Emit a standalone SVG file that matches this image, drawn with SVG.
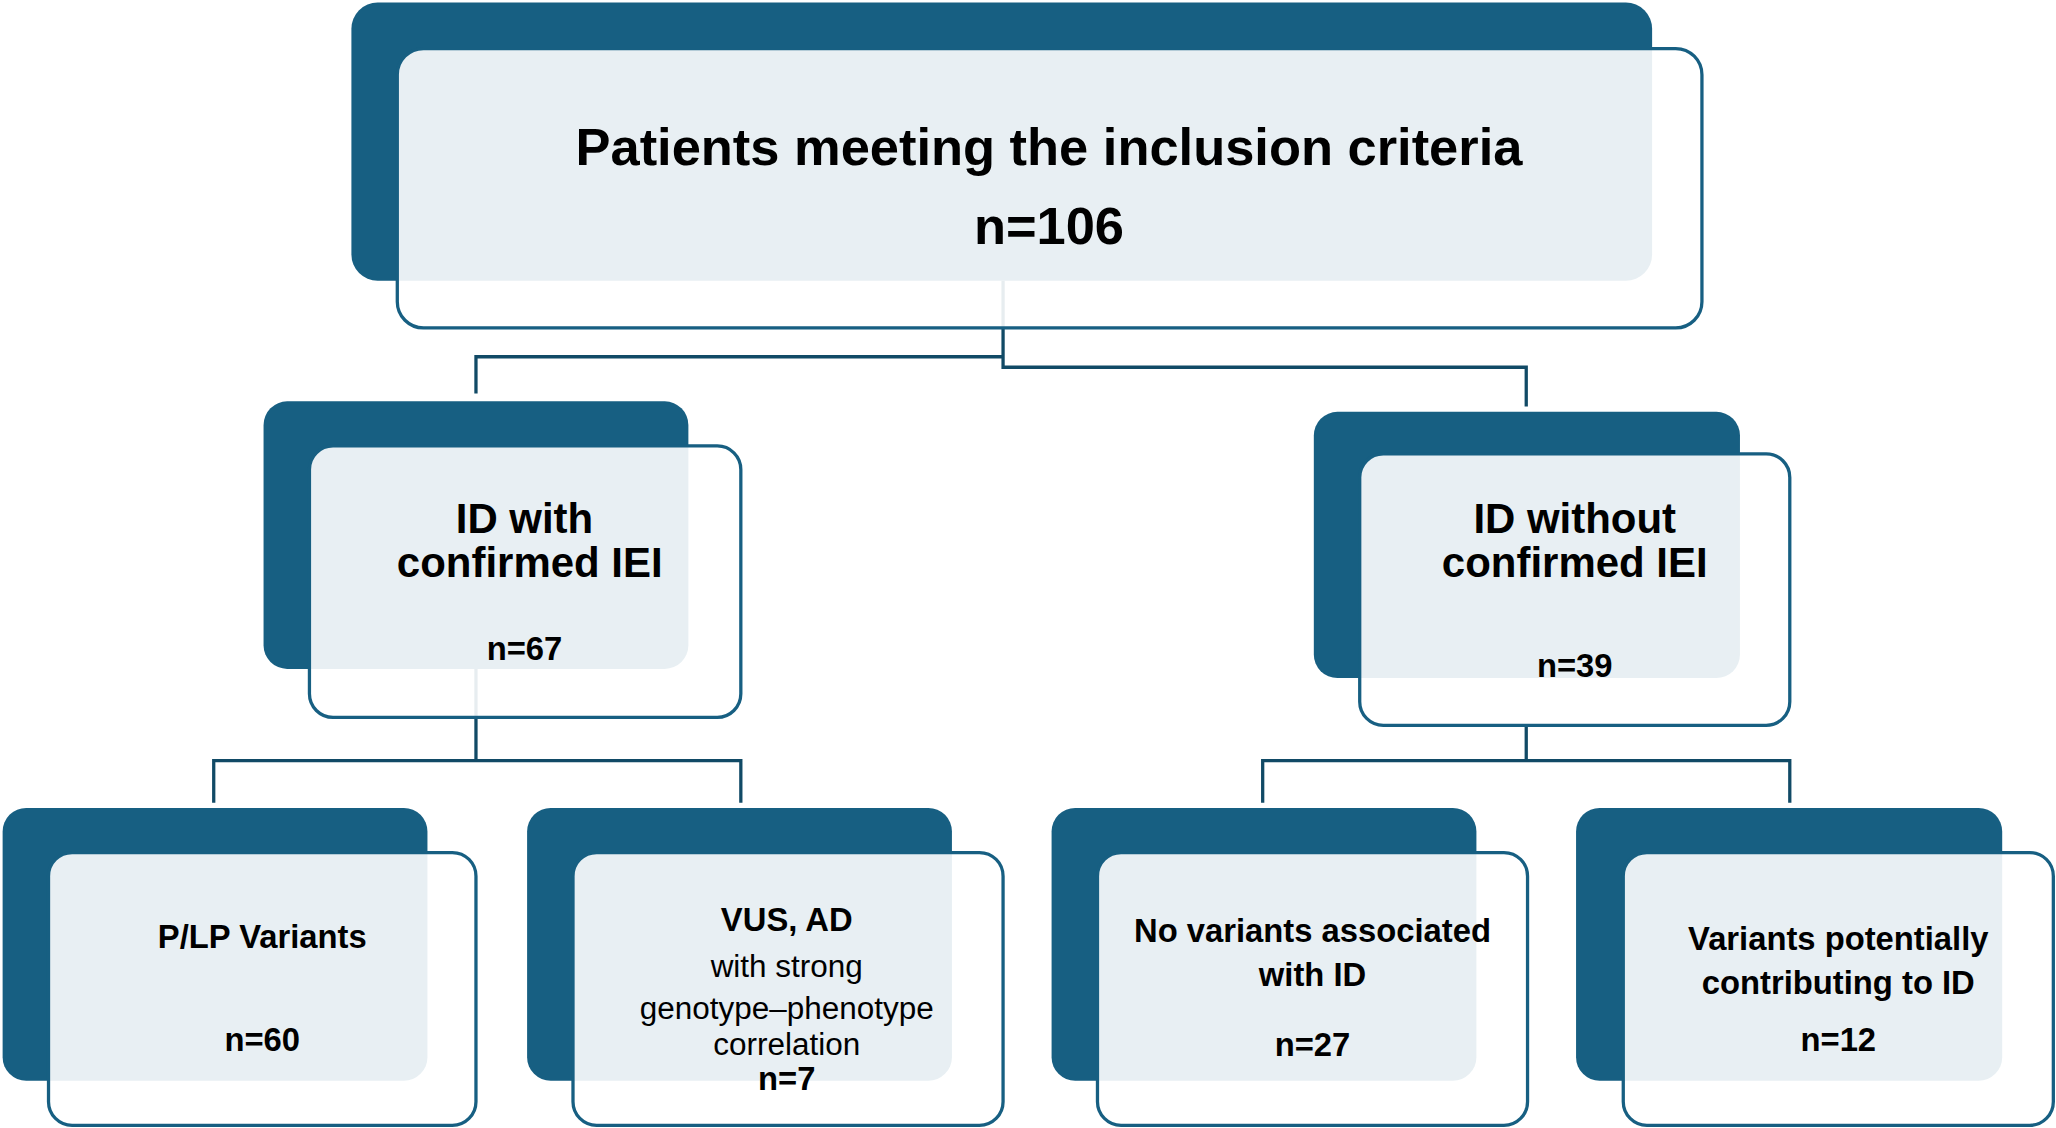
<svg xmlns="http://www.w3.org/2000/svg" width="2056" height="1128" viewBox="0 0 2056 1128">
<style>
.d{fill:#175f82}
.f{fill:#fff;fill-opacity:0.9;stroke:#175f82;stroke-width:2.5}
.c{fill:none;stroke:#114a66;stroke-width:2.5}
text{font-family:"Liberation Sans",Arial,sans-serif;text-anchor:middle;fill:#000}
.b{font-weight:bold}
</style>
<rect width="2056" height="1128" fill="#fff"/>
<g transform="scale(1.3112,1.3116)">
<g id="connectors">
<path class="c" d="M765 214V272M363 300V272H765V280H1164V310"/>
<path class="c" d="M363 510V580M163 612V580H565V612"/>
<path class="c" d="M1164 553V580M963 612V580H1365V612"/>
</g>
<g id="top"><rect class="d" x="268" y="2" width="992" height="212" rx="20"/><rect class="f" x="303" y="37" width="995" height="213" rx="20"/>
<text class="b" x="800" y="126" font-size="40">Patients meeting the inclusion criteria</text><text class="b" x="800" y="186" font-size="40">n=106</text></g>
<g id="midL"><rect class="d" x="201" y="306" width="324" height="204" rx="18"/><rect class="f" x="236" y="340" width="329" height="207" rx="18"/>
<text class="b" x="400" y="406" font-size="32">ID with</text><text class="b" x="404" y="440" font-size="32">confirmed IEI</text><text class="b" x="400" y="503" font-size="25">n=67</text></g>
<g id="midR"><rect class="d" x="1002" y="314" width="325" height="203" rx="18"/><rect class="f" x="1037" y="346" width="328" height="207" rx="18"/>
<text class="b" x="1201" y="406" font-size="32">ID without</text><text class="b" x="1201" y="440" font-size="32">confirmed IEI</text><text class="b" x="1201" y="516" font-size="25">n=39</text></g>
<g id="b1"><rect class="d" x="2" y="616" width="324" height="208" rx="18"/><rect class="f" x="37" y="650" width="326" height="208" rx="18"/>
<text class="b" x="200" y="723" font-size="25">P/LP Variants</text><text class="b" x="200" y="801" font-size="25">n=60</text></g>
<g id="b2"><rect class="d" x="402" y="616" width="324" height="208" rx="18"/><rect class="f" x="437" y="650" width="328" height="208" rx="18"/>
<text class="b" x="600" y="710" font-size="25">VUS, AD</text><text x="600" y="745" font-size="24">with strong</text><text x="600" y="777" font-size="24">genotype–phenotype</text><text x="600" y="804" font-size="24">correlation</text><text class="b" x="600" y="831" font-size="25">n=7</text></g>
<g id="b3"><rect class="d" x="802" y="616" width="324" height="208" rx="18"/><rect class="f" x="837" y="650" width="328" height="208" rx="18"/>
<text class="b" x="1001" y="718" font-size="25">No variants associated</text><text class="b" x="1001" y="752" font-size="25">with ID</text><text class="b" x="1001" y="805" font-size="25">n=27</text></g>
<g id="b4"><rect class="d" x="1202" y="616" width="325" height="208" rx="18"/><rect class="f" x="1238" y="650" width="328" height="208" rx="18"/>
<text class="b" x="1402" y="724" font-size="25">Variants potentially</text><text class="b" x="1402" y="758" font-size="25">contributing to ID</text><text class="b" x="1402" y="801" font-size="25">n=12</text></g>
</g>
</svg>
